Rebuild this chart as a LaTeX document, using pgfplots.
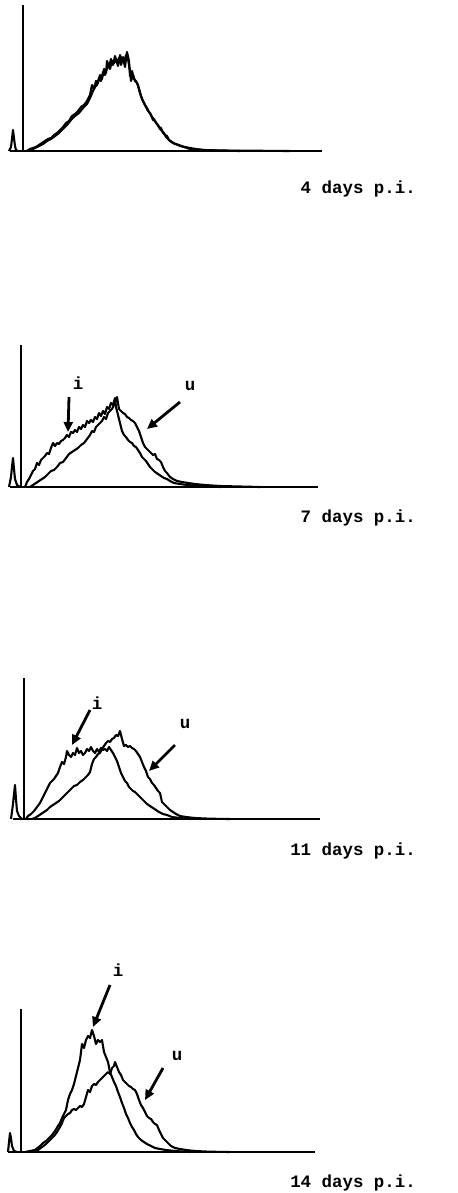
\documentclass[border=0pt]{standalone}
\usepackage{pgfplots}
\pgfplotsset{compat=1.18}
\usepackage{fontspec}
\setmonofont{Liberation Mono}
\usetikzlibrary{arrows.meta}
\pgfplotsset{panel/.style={hide axis, x=1bp, y=1bp, xmin=0, xmax=458, ymin=0, ymax=150,
  anchor=south west, clip=false, scale only axis},
  curve/.style={black, line width=2.1bp, line join=round, mark=none},
  axl/.style={black, line width=1.6bp, mark=none}}
\tikzset{lab/.style={font=\ttfamily\bfseries\fontsize{17.5}{17.5}\selectfont, inner sep=0pt},
  arr/.style={line width=2.8bp, -{Triangle[length=10bp,width=9bp]}}}
\begin{document}
\begin{tikzpicture}
% ---------- panel 1: 4 days ----------
\begin{axis}[panel, at={(0bp,-151bp)}]
\addplot[axl, line width=2.4bp] coordinates {(10,0) (322,0)};
\addplot[axl, line width=1.5bp] coordinates {(23,0) (23,146)};
\addplot[curve] coordinates {(9,0) (11,4) (12,12) (13,21) (14,13) (15,5) (16,1) (18,0)};
\addplot[curve] coordinates {(27,0) (30,2) (33,3) (36,4) (39,6) (42,8) (45,10) (48,12) (51,13) (54,16) (57,18) (60,21) (63,24) (66,28) (69,30) (72,35) (75,37) (78,40) (81,44) (84,46) (87,50) (90,56) (92,66) (94,62) (96,70) (98,68) (100,76) (102,72) (104,82) (106,78) (107,90) (109,84) (111,92) (113,86) (115,95) (117,88) (119,93) (121,86) (123,94) (125,84) (127,99) (129,90) (130,75) (132,80) (134,72) (136,70) (138,66) (140,58) (142,52) (144,48) (146,44) (148,40) (150,38) (152,34) (154,32) (156,28) (158,26) (160,22) (162,20) (164,18) (166,14) (168,12) (170,10) (173,8) (176,7) (180,5) (185,4) (190,3) (196,2) (205,1) (220,0.5) (250,0.3) (290,0)};
\addplot[curve] coordinates {(27,0) (31,1) (35,3) (39,5) (43,7) (47,10) (51,12) (55,15) (59,18) (63,22) (67,26) (71,31) (75,35) (79,38) (83,43) (87,47) (90,53) (93,60) (95,64) (97,66) (99,73) (101,70) (103,79) (105,76) (108,86) (110,82) (112,90) (114,88) (116,92) (118,85) (120,96) (122,90) (124,88) (126,96) (128,92) (130,80) (131,70) (133,76) (135,70) (137,68) (139,62) (141,55) (143,50) (145,46) (147,43) (149,39) (151,36) (153,31) (155,30) (157,27) (159,24) (161,23) (163,18) (165,16) (167,15) (169,11) (172,9) (175,7) (179,6) (184,4) (190,2) (200,1) (215,0.5) (240,0)};
\end{axis}
% ---------- panel 2: 7 days ----------
\begin{axis}[panel, at={(0bp,-487bp)}]
\addplot[axl, line width=2.4bp] coordinates {(10,0) (318,0)};
\addplot[axl, line width=1.5bp] coordinates {(21,0) (21,142)};
\addplot[curve] coordinates {(9,0) (11,10) (12,20) (13,29) (14,18) (15,8) (17,2) (20,0)};
\addplot[curve] coordinates {(25,0) (27,5) (29,8) (31,12) (33,16) (35,18) (37,24) (39,22) (41,27) (43,29) (45,31) (47,34) (49,33) (51,39) (53,44) (55,41) (57,44) (59,43) (61,46) (63,47) (65,49) (67,52) (69,50) (71,55) (73,54) (75,57) (77,55) (79,60) (81,58) (83,62) (85,60) (87,66) (89,64) (91,67) (93,65) (95,70) (97,68) (99,74) (101,71) (103,76) (105,73) (107,80) (109,78) (111,84) (113,82) (115,89) (116,80) (118,72) (120,64) (122,56) (124,52) (126,50) (128,47) (130,45) (132,44) (134,41) (136,40) (138,37) (140,34) (142,30) (144,28) (146,26) (148,23) (150,20) (152,18) (155,15) (158,13) (161,11) (164,9) (167,8) (170,6) (174,4) (180,3) (187,2) (200,1) (220,0)};
\addplot[curve] coordinates {(30,0) (33,2) (36,4) (39,6) (42,8) (45,10) (48,13) (51,16) (54,17) (57,20) (60,24) (63,25) (66,29) (69,33) (72,35) (75,37) (78,39) (81,42) (84,44) (87,48) (90,52) (92,56) (94,55) (96,60) (98,62) (100,64) (102,66) (104,70) (106,68) (108,74) (110,76) (112,78) (114,82) (116,87) (117,90) (119,78) (121,76) (123,74) (125,73) (127,70) (129,69) (131,67) (133,66) (135,64) (137,60) (139,56) (141,50) (143,44) (145,40) (147,38) (149,36) (151,34) (153,32) (155,33) (157,28) (159,27) (161,25) (163,20) (165,16) (167,14) (170,10) (173,8) (177,6) (182,5) (188,4) (195,3) (205,2) (220,1) (240,0.5) (260,0)};
\end{axis}
% ---------- panel 3: 11 days ----------
\begin{axis}[panel, at={(0bp,-819bp)}]
\addplot[axl, line width=2.4bp] coordinates {(13,0) (320,0)};
\addplot[axl, line width=1.5bp] coordinates {(24,0) (24,141)};
\addplot[curve] coordinates {(11,0) (13,15) (14,25) (15,34) (16,20) (17,8) (19,3) (22,0)};
\addplot[curve] coordinates {(26,0) (28,3) (31,5) (34,8) (37,12) (40,16) (43,22) (46,28) (48,32) (50,36) (52,38) (54,40) (56,43) (58,46) (60,52) (62,57) (64,55) (66,62) (67,68) (69,64) (71,62) (73,66) (75,64) (77,71) (79,66) (81,68) (83,64) (85,66) (87,70) (89,68) (91,72) (93,68) (95,66) (97,70) (99,67) (101,71) (103,69) (105,70) (107,68) (109,72) (111,69) (113,66) (115,62) (117,58) (119,52) (121,46) (123,42) (125,38) (127,36) (129,32) (131,30) (133,28) (135,27) (137,25) (139,23) (141,21) (143,19) (145,17) (147,15) (150,13) (153,11) (156,9) (159,7) (163,5) (167,4) (172,2) (180,1) (190,0)};
\addplot[curve] coordinates {(32,0) (35,1) (38,3) (41,5) (44,7) (47,9) (50,12) (53,14) (56,16) (59,18) (62,21) (65,24) (68,27) (71,30) (74,33) (77,34) (80,37) (83,39) (86,42) (88,44) (90,47) (92,55) (94,60) (96,62) (98,65) (100,66) (102,70) (104,73) (106,76) (108,78) (110,77) (112,80) (114,81) (116,84) (118,83) (120,88) (122,80) (124,73) (126,74) (128,72) (130,73) (132,71) (134,70) (136,68) (138,65) (140,62) (142,57) (144,52) (146,48) (148,42) (150,40) (152,36) (154,34) (156,31) (158,28) (160,26) (162,17) (164,15) (166,13) (168,11) (170,9) (173,7) (176,5) (180,3) (186,2) (195,1) (210,0.3) (230,0)};
\end{axis}
% ---------- panel 4: 14 days ----------
\begin{axis}[panel, at={(0bp,-1152bp)}]
\addplot[axl, line width=2.4bp] coordinates {(8,0) (315,0)};
\addplot[axl, line width=1.5bp] coordinates {(21,0) (21,143)};
\addplot[curve] coordinates {(8,0) (9,10) (10,19) (11,14) (12,6) (14,1) (17,0)};
\addplot[curve] coordinates {(25,0) (30,1) (35,2) (40,6) (43,9) (46,11) (49,14) (52,17) (55,21) (58,26) (60,29) (62,34) (64,38) (66,42) (68,52) (70,58) (72,62) (74,68) (76,76) (78,84) (80,92) (82,108) (84,104) (86,112) (88,116) (90,114) (92,122) (94,116) (96,108) (98,112) (100,110) (102,112) (104,100) (106,95) (108,90) (110,80) (112,75) (114,70) (116,66) (118,60) (120,55) (122,49) (124,44) (126,38) (128,34) (130,29) (132,25) (134,22) (136,18) (138,15) (141,12) (144,10) (147,8) (151,6) (155,4) (160,3) (166,2) (175,1) (190,0)};
\addplot[curve] coordinates {(34,0) (38,2) (42,5) (46,8) (50,12) (54,16) (57,20) (60,25) (62,29) (64,34) (66,36) (68,38) (70,39) (72,42) (74,43) (76,42) (78,44) (80,46) (82,45) (84,48) (86,55) (88,62) (90,60) (92,66) (94,68) (96,67) (98,70) (100,72) (102,74) (104,76) (106,78) (108,80) (110,78) (112,84) (114,86) (115,90) (117,85) (119,80) (121,77) (123,72) (125,70) (127,68) (129,66) (131,65) (133,63) (135,62) (137,58) (139,52) (141,47) (143,44) (145,40) (147,36) (149,34) (151,33) (153,30) (155,28) (157,27) (159,22) (161,18) (163,14) (165,12) (168,9) (171,6) (175,4) (180,3) (186,2) (195,1) (210,0.3) (230,0)};
\end{axis}
% ---------- annotations ----------
\node[lab, anchor=base east] at (416bp,-193bp) {4 days p.i.};
\node[lab, anchor=base east] at (416bp,-522bp) {7 days p.i.};
\node[lab, anchor=base east] at (416bp,-855bp) {11 days p.i.};
\node[lab, anchor=base east] at (416bp,-1187bp) {14 days p.i.};
% panel 2
\node[lab] at (78bp,-383bp) {i};
\draw[arr] (69bp,-397bp) -- (68bp,-432bp);
\node[lab] at (190bp,-386bp) {u};
\draw[arr] (180bp,-402bp) -- (147bp,-429bp);
% panel 3
\node[lab] at (97bp,-703bp) {i};
\draw[arr] (90bp,-710bp) -- (72bp,-745bp);
\node[lab] at (185bp,-724bp) {u};
\draw[arr] (175bp,-745bp) -- (149bp,-771bp);
% panel 4
\node[lab] at (118bp,-970bp) {i};
\draw[arr] (110bp,-985bp) -- (93bp,-1027bp);
\node[lab] at (177bp,-1056bp) {u};
\draw[arr] (163bp,-1068bp) -- (145bp,-1100bp);
\pgfresetboundingbox
\path[use as bounding box] (0bp,0bp) rectangle (458bp,-1193bp);
\end{tikzpicture}
\end{document}
